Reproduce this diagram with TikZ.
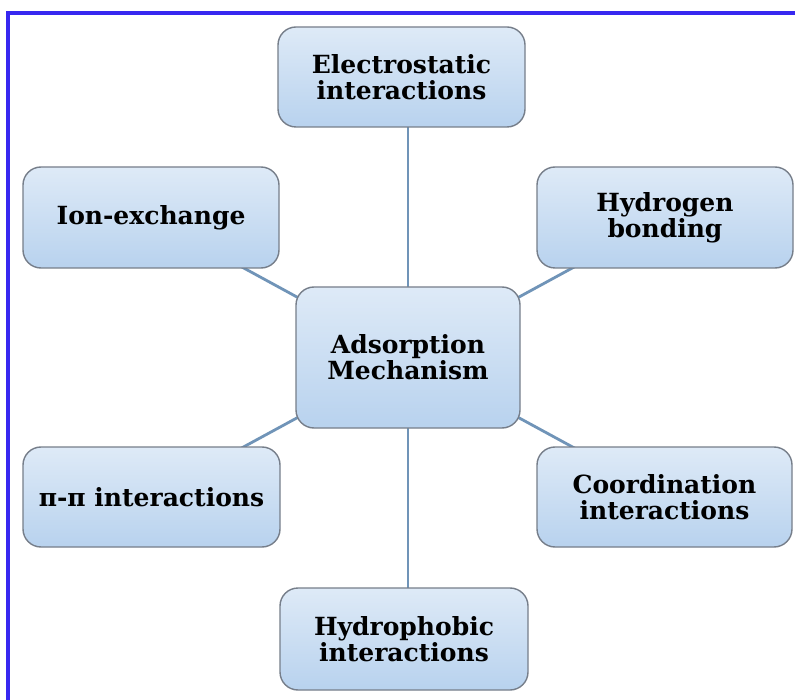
\documentclass[tikz,border=0pt]{standalone}
\usepackage{fontspec}
\setmainfont{DejaVu Serif}
\usetikzlibrary{backgrounds}
\definecolor{frameblue}{RGB}{55,40,240}
\definecolor{boxtop}{RGB}{222,234,247}
\definecolor{boxbot}{RGB}{184,210,238}
\definecolor{boxedge}{RGB}{118,126,138}
\definecolor{linkblue}{RGB}{112,148,184}
\begin{document}
\begin{tikzpicture}[x=1pt,y=-1pt,
  box/.style={draw=boxedge, line width=1.4pt, rounded corners=18pt,
    top color=boxtop, bottom color=boxbot, align=center, inner sep=0pt,
    font=\bfseries\fontsize{25}{26}\selectfont},
  link/.style={draw=linkblue, line width=2.8pt}]
\useasboundingbox (0,0) rectangle (795,700);
\node[box, minimum width=247pt, minimum height=100pt] (elec) at (401.5,77) {Electrostatic\\interactions};
\node[box, minimum width=256pt, minimum height=101pt] (ion) at (151,217.5) {Ion-exchange};
\node[box, minimum width=256pt, minimum height=101pt] (hyd) at (665,217.5) {Hydrogen\\bonding};
\node[box, minimum width=224pt, minimum height=141pt] (ads) at (408,357.5) {Adsorption\\Mechanism};
\node[box, minimum width=257pt, minimum height=100pt] (pi) at (151.5,497) {π-π interactions};
\node[box, minimum width=255pt, minimum height=100pt] (coord) at (664.5,497) {Coordination\\interactions};
\node[box, minimum width=248pt, minimum height=102pt] (phob) at (404,639) {Hydrophobic\\interactions};
\begin{pgfonlayer}{background}
\fill[white] (0,0) rectangle (795,700);
\draw[link] (ads.center) -- (ads.center |- elec.center);
\draw[link] (ads.center) -- (ads.center |- phob.center);
\draw[link] (ads.center) -- (ion.center);
\draw[link] (ads.center) -- (hyd.center);
\draw[link] (ads.center) -- (pi.center);
\draw[link] (ads.center) -- (coord.center);
\end{pgfonlayer}
\draw[frameblue, line width=4pt] (8,700) -- (8,13) -- (795,13);
\end{tikzpicture}
\end{document}
